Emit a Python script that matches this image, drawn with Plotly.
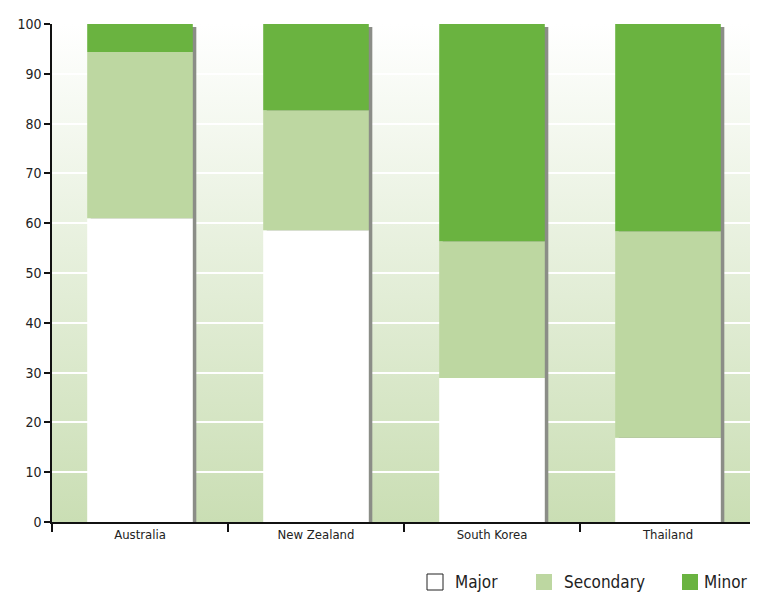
import base64
import plotly.graph_objects as go

countries = ["Australia", "New Zealand", "South Korea", "Thailand"]
major = [61.0, 58.6, 28.9, 16.9]
secondary = [33.4, 24.1, 27.5, 41.5]
minor = [5.6, 17.3, 43.6, 41.6]

series_names = ["Major", "Secondary", "Minor"]
series_colors = ["#ffffff", "#bdd7a1", "#6ab340"]

FONT = "DejaVu Sans Condensed, Roboto, sans-serif"

# page body has an 8px margin, so the figure is 8px smaller than the window
W, H = 750, 587
ML, MR, MT, MB = 44, 2, 16, 73
PW, PH = W - ML - MR, H - MT - MB


def px_x(x):
    return (x - 8 - ML) / PW


def px_y(y):
    return (H - MB - (y - 8)) / PH


# vertical gradient for the plot background
svg = ('<svg xmlns="http://www.w3.org/2000/svg" width="10" height="100" preserveAspectRatio="none">'
       '<defs><linearGradient id="g" x1="0" y1="0" x2="0" y2="1">'
       '<stop offset="0" stop-color="#ffffff"/><stop offset="1" stop-color="#cadeb4"/>'
       '</linearGradient></defs><rect width="10" height="100" fill="url(#g)"/></svg>')
bg_uri = "data:image/svg+xml;base64," + base64.b64encode(svg.encode()).decode()

totals = [a + b + c for a, b, c in zip(major, secondary, minor)]
base_sec = major
base_min = [a + b for a, b in zip(major, secondary)]

fig = go.Figure()

# drop shadow on the right of each column
fig.add_trace(go.Bar(x=countries, y=[t - 0.6 for t in totals], base=0,
                     width=0.6, offset=-0.28, marker=dict(color="#8b8d87", line_width=0),
                     showlegend=False, hoverinfo="skip"))

for vals, base, name, color in zip([major, secondary, minor], [0, base_sec, base_min],
                                   series_names, series_colors):
    fig.add_trace(go.Bar(x=countries, y=vals, base=base, name=name, width=0.6, offset=-0.3,
                         marker=dict(color=color, line_width=0), showlegend=False))

# hand-drawn legend (a real legend would push the bottom margin)
legend_box_left = [427, 536, 682]
shapes, annots = [], []
for i, (name, color, bx) in enumerate(zip(series_names, series_colors, legend_box_left)):
    shapes.append(dict(type="rect", xref="paper", yref="paper",
                       x0=px_x(bx), x1=px_x(bx + 16), y0=px_y(574), y1=px_y(590),
                       fillcolor=color,
                       line=dict(color="#222222", width=1 if name == "Major" else 0)))
    last = i == len(series_names) - 1
    annots.append(dict(text=name, xref="paper", yref="paper",
                       x=px_x(749) if last else px_x(bx + 26), y=px_y(582),
                       xanchor="right" if last else "left", yanchor="middle",
                       showarrow=False, font=dict(size=17, color="#222222")))

fig.update_layout(
    width=W, height=H,
    margin=dict(l=ML, r=MR, t=MT, b=MB),
    barmode="overlay",
    showlegend=False,
    paper_bgcolor="white",
    plot_bgcolor="white",
    font=dict(family=FONT, color="#222222"),
    images=[dict(source=bg_uri, xref="paper", yref="paper", x=0, y=1, sizex=1, sizey=1,
                 sizing="stretch", layer="below")],
    shapes=shapes,
    annotations=annots,
    xaxis=dict(showline=True, linecolor="#111111", linewidth=1.5, ticks="outside",
               tickson="boundaries", ticklen=8, tickcolor="#111111", tickwidth=1.5,
               tickfont=dict(size=13, color="#222222"), showgrid=False, automargin=False),
    yaxis=dict(range=[0, 100], dtick=10, showline=True, linecolor="#111111", linewidth=1.5,
               ticks="outside", ticklen=6, tickcolor="#111111", tickwidth=1.5,
               tickfont=dict(size=14, color="#222222"), automargin=False,
               showgrid=True, gridcolor="#ffffff", gridwidth=1.5, zeroline=False),
)

fig.write_html("out.html")
